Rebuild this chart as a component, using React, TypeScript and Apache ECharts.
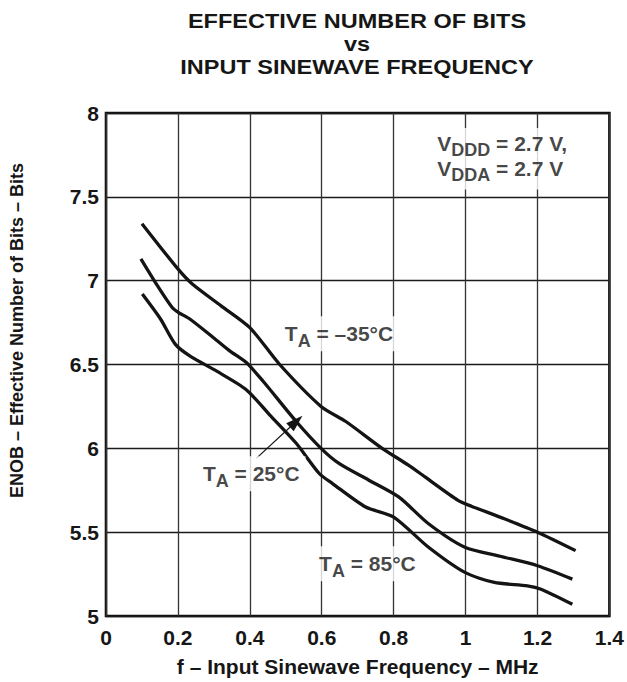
import React, { useEffect, useRef } from "react";
import * as echarts from "echarts";

const FONT = '"Liberation Sans", Arial, Helvetica, sans-serif';

const titleLines = ["EFFECTIVE NUMBER OF BITS", "vs", "INPUT SINEWAVE FREQUENCY"];
const xAxisTitle = "f – Input Sinewave Frequency – MHz";
const yAxisTitle = "ENOB – Effective Number of Bits – Bits";
const xTickLabels = ["0", "0.2", "0.4", "0.6", "0.8", "1", "1.2", "1.4"];
const yTickLabels = ["5", "5.5", "6", "6.5", "7", "7.5", "8"];

// T_A = -35 °C
const freqM35 = [0.1, 0.2, 0.24, 0.32, 0.4, 0.483, 0.598, 0.667, 0.768, 0.841, 0.887, 0.979, 1.016, 1.108, 1.2, 1.306];
const enobM35 = [7.34, 7.07, 6.98, 6.85, 6.72, 6.5, 6.25, 6.16, 6.0, 5.9, 5.83, 5.69, 5.655, 5.58, 5.5, 5.39];
// T_A = 25 °C
const freq25 = [0.097, 0.143, 0.184, 0.202, 0.234, 0.299, 0.345, 0.391, 0.437, 0.529, 0.598, 0.648, 0.731, 0.814, 0.897, 0.998, 1.099, 1.2, 1.297];
const enob25 = [7.13, 6.97, 6.84, 6.81, 6.77, 6.66, 6.58, 6.51, 6.4, 6.16, 6.0, 5.91, 5.81, 5.71, 5.55, 5.41, 5.355, 5.3, 5.22];
// T_A = 85 °C
const freq85 = [0.101, 0.152, 0.193, 0.234, 0.308, 0.39, 0.455, 0.529, 0.593, 0.63, 0.722, 0.8, 0.897, 0.998, 1.08, 1.172, 1.21, 1.297];
const enob85 = [6.92, 6.77, 6.62, 6.55, 6.46, 6.35, 6.2, 6.03, 5.85, 5.79, 5.65, 5.59, 5.41, 5.26, 5.2, 5.18, 5.16, 5.07];

// annotation anchors (data coordinates)
const labelM35 = [0.648, 6.683];
const label25 = [0.404, 5.849];
const label85 = [0.727, 5.311];
const labelSupply1 = [0.899, 7.911];
const labelSupply2 = [0.899, 7.74];
const arrowFrom = [0.418, 5.94];
const arrowTo = [0.529, 6.16];

const zip = (xs: number[], ys: number[]) => xs.map((x, i) => [x, ys[i]]);

const INK = "#161616";
const richT = {
  m: { fontSize: 21, lineHeight: 25, fontWeight: "bold", fontFamily: FONT, color: INK },
  s: { fontSize: 18, lineHeight: 25, fontWeight: "bold", fontFamily: FONT, color: INK, padding: [15, 0, 0, 0] },
};
const richV = {
  m: { fontSize: 21, lineHeight: 24, fontWeight: "bold", fontFamily: FONT, color: INK },
  s: { fontSize: 18, lineHeight: 24, fontWeight: "bold", fontFamily: FONT, color: INK, padding: [12, 0, 0, 0] },
};

export default function App() {
  const ref = useRef<HTMLDivElement>(null);
  useEffect(() => {
    document.body.style.margin = "0";
    const chart = echarts.init(ref.current!, null, { renderer: "svg" });
    const curve = (d: number[][]) => ({
      type: "line",
      data: d,
      smooth: 0.25,
      showSymbol: false,
      symbol: "none",
      lineStyle: { color: "#141414", width: 3.3 },
      z: 3,
    });
    chart.setOption({
      animation: false,
      backgroundColor: "#fff",
      grid: { left: 105, right: 14.5, top: 113, bottom: 62, show: true, borderColor: "#111", borderWidth: 2.6, backgroundColor: "transparent" },
      xAxis: {
        type: "value",
        min: 0,
        max: 1.4,
        interval: 0.2,
        name: xAxisTitle,
        nameLocation: "middle",
        nameGap: 40,
        nameTextStyle: { fontSize: 21, fontWeight: "bold", fontFamily: FONT, color: INK },
        axisLine: { show: false },
        axisTick: { show: false },
        axisLabel: {
          margin: 11,
          fontSize: 21,
          fontWeight: "bold",
          fontFamily: FONT,
          color: INK,
          formatter: (v: number) => xTickLabels[Math.round(v / 0.2)] ?? "",
        },
        splitLine: { show: true, lineStyle: { color: "#333", width: 1.3 } },
      },
      yAxis: {
        type: "value",
        min: 5,
        max: 8,
        interval: 0.5,
        name: yAxisTitle,
        nameLocation: "middle",
        nameRotate: 90,
        nameGap: 80,
        nameTextStyle: { fontSize: 18, fontWeight: "bold", fontFamily: FONT, color: INK, padding: [0, 0, 0, 68] },
        axisLine: { show: false },
        axisTick: { show: false },
        axisLabel: {
          margin: 7,
          fontSize: 21,
          fontWeight: "bold",
          fontFamily: FONT,
          color: INK,
          formatter: (v: number) => yTickLabels[Math.round((v - 5) / 0.5)] ?? "",
        },
        splitLine: { show: true, lineStyle: { color: "#1a1a1a", width: 1.3 } },
      },
      graphic: titleLines.map((t, i) => ({
        type: "text",
        x: 357,
        y: [21, 44, 67][i],
        scaleX: 1.12,
        style: {
          text: t,
          textAlign: "center",
          textVerticalAlign: "middle",
          fontSize: 21,
          fontWeight: "bold",
          fontFamily: FONT,
          fill: INK,
        },
      })),
      series: [
        curve(zip(freqM35, enobM35)),
        {
          ...curve(zip(freq25, enob25)),
          markLine: {
            silent: true,
            symbol: ["none", "triangle"],
            symbolSize: [11, 17],
            lineStyle: { color: "#141414", width: 1.2, type: "solid" },
            label: { show: false },
            data: [[{ coord: arrowFrom }, { coord: arrowTo }]],
          },
        },
        curve(zip(freq85, enob85)),
        {
          type: "scatter",
          symbolSize: 0,
          z: 6,
          silent: true,
          label: {
            show: true,
            position: "inside",
            backgroundColor: "#fff",
            padding: [5, 6, 5, 6],
            rich: richT,
          },
          data: [
            { value: labelM35, label: { formatter: "{m|T}{s|A}{m| = –35°C}" } },
            { value: label25, label: { formatter: "{m|T}{s|A}{m| = 25°C}" } },
            { value: label85, label: { formatter: "{m|T}{s|A}{m| = 85°C}" } },
            {
              value: labelSupply1,
              label: {
                position: [0, 0],
                align: "left",
                verticalAlign: "top",
                padding: [4, 8, 1, 8],
                rich: richV,
                formatter: "{m|V}{s|DDD}{m| = 2.7 V,}",
              },
            },
            {
              value: labelSupply2,
              label: {
                position: [0, 0],
                align: "left",
                verticalAlign: "top",
                padding: [0, 8, 9, 8],
                rich: richV,
                formatter: "{m|V}{s|DDA}{m| = 2.7 V}",
              },
            },
          ],
        },
      ],
    });
    return () => chart.dispose();
  }, []);
  return <div ref={ref} style={{ width: 627, height: 682 }} />;
}
